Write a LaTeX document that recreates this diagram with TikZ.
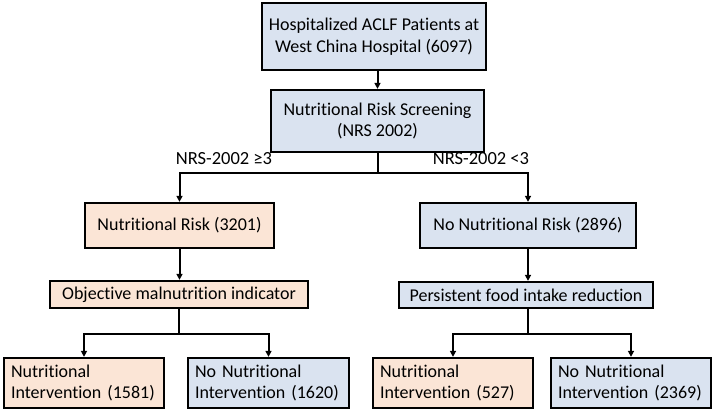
\documentclass[tikz,border=0pt]{standalone}
\usepackage{fontspec}
\setmainfont{Carlito}[Ligatures={NoCommon,NoContextual}]
\usetikzlibrary{arrows.meta}
\definecolor{bluebox}{HTML}{DAE3F0}
\definecolor{orangebox}{HTML}{FBE5D6}
\begin{document}
\begin{tikzpicture}[x=1pt,y=-1pt,
  box/.style={draw=black,line width=2.3pt,inner sep=0pt,align=center,font=\fontsize{18}{21.5}\selectfont},
  bbox/.style={box,fill=bluebox},
  obox/.style={box,fill=orangebox},
  leaf/.style={text width=#1,align=left,inner xsep=7pt},
  conn/.style={line width=2pt},
  arr/.style={conn,-{Triangle[length=6pt,width=6pt]}},
  lbl/.style={font=\fontsize{18.5}{22}\selectfont}]
\useasboundingbox (0,0) rectangle (715,413);
\node[bbox,minimum width=224,minimum height=67] (top) at (374,36.5) {Hospitalized ACLF Patients at\\West China Hospital (6097)};
\node[bbox,minimum width=213,minimum height=62] (nrs) at (377.5,121) {Nutritional Risk Screening\\(NRS 2002)};
\node[obox,minimum width=189,minimum height=45] (nr) at (179.5,225.5) {Nutritional Risk (3201)};
\node[bbox,minimum width=216,minimum height=45] (nnr) at (528,225.5) {No Nutritional Risk (2896)};
\node[obox,minimum width=258,minimum height=27] (obj) at (179,294.5) {Objective malnutrition indicator};
\node[bbox,minimum width=254,minimum height=26] (per) at (526,295) {Persistent food intake reduction};
\node[obox,minimum width=160,minimum height=50,leaf=146pt] (b1) at (84,383) {Nutritional\\Intervention (1581)};
\node[bbox,minimum width=161,minimum height=50,leaf=147pt] (b2) at (268.5,383) {No Nutritional\\Intervention (1620)};
\node[obox,minimum width=160,minimum height=50,leaf=146pt] (b3) at (453,383) {Nutritional\\Intervention (527)};
\node[bbox,minimum width=160,minimum height=50,leaf=146pt] (b4) at (631,383) {No Nutritional\\Intervention (2369)};
\coordinate (s1) at (377.5,173);
\coordinate (s2) at (179,334);
\coordinate (s3) at (528,334);
\draw[arr] (top.south -| nrs.north) -- (nrs.north);
\draw[conn] (nrs.south) -- (s1);
\draw[arr] (s1) -| (nr.north);
\draw[arr] (s1) -| (nnr.north);
\draw[arr] (nr.south) -- (nr.south |- obj.north);
\draw[arr] (nnr.south) -- (nnr.south |- per.north);
\draw[conn] (obj.south -| s2) -- (s2);
\draw[arr] (s2) -| (b1.north);
\draw[arr] (s2) -| (b2.north);
\draw[conn] (per.south -| s3) -- (s3);
\draw[arr] (s3) -| (b3.north);
\draw[arr] (s3) -| (b4.north);
\node[lbl] (l1) at (224,159) {NRS-2002 ≥3};
\node[lbl] (l2) at (481,159) {NRS-2002 <3};
\end{tikzpicture}
\end{document}
